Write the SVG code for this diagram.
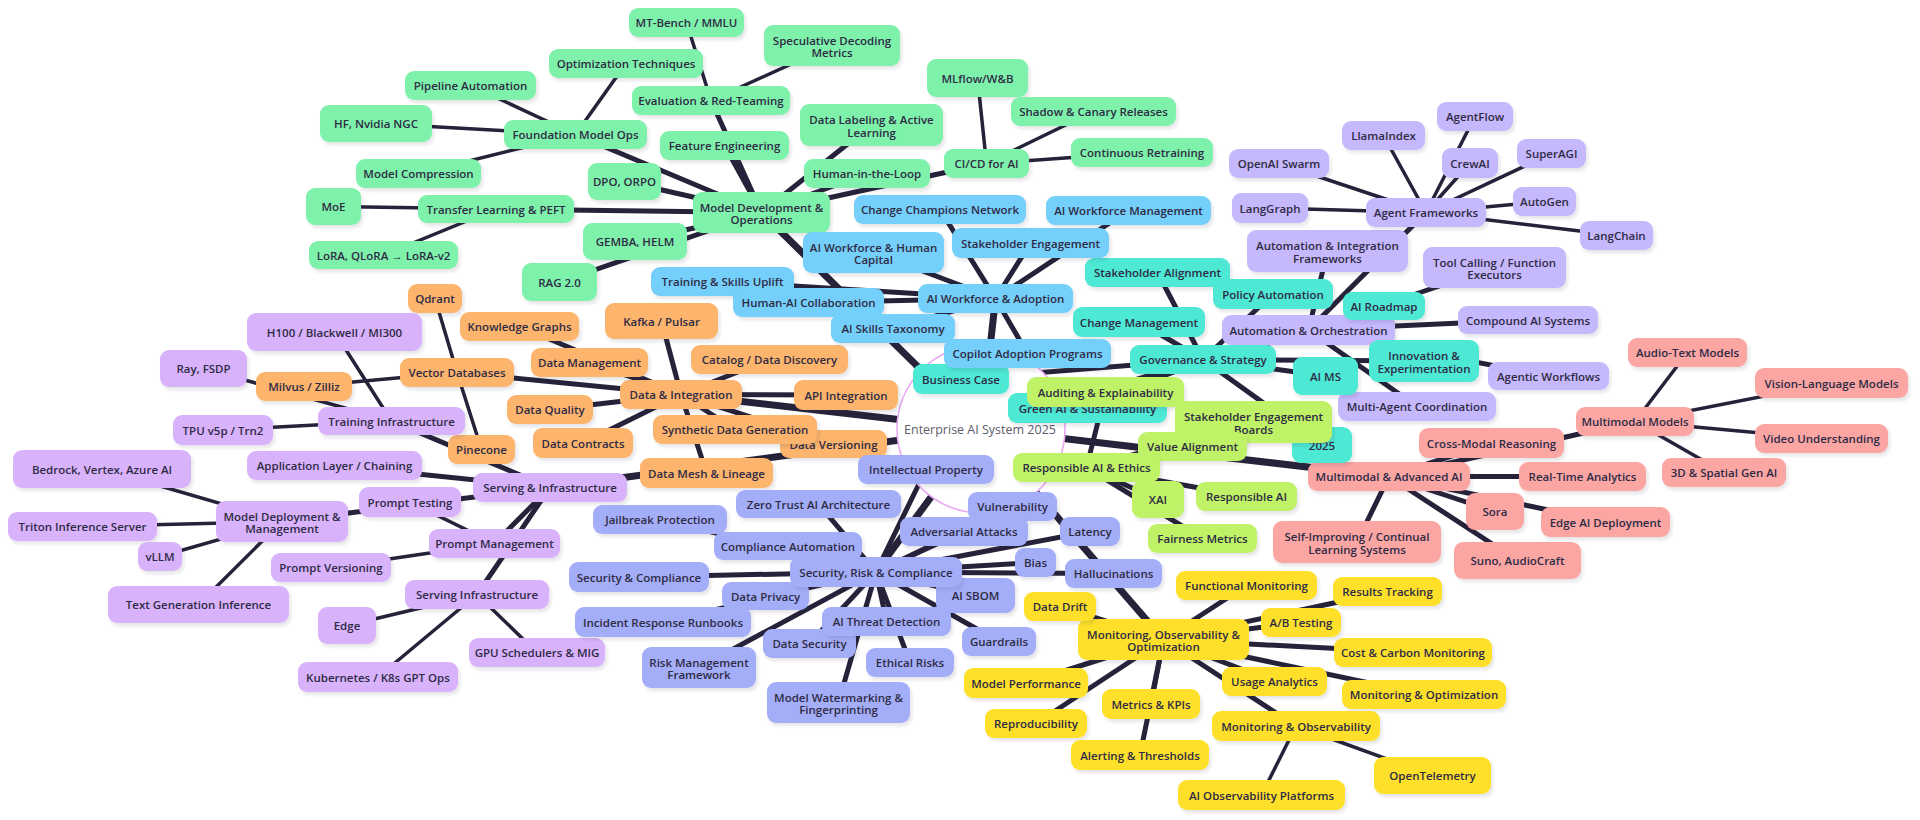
<svg xmlns="http://www.w3.org/2000/svg" width="1920" height="820" viewBox="0 0 1920 820">
<defs>
<filter id="sh" x="-10%" y="-20%" width="130%" height="160%"><feDropShadow dx="2" dy="3" stdDeviation="1.6" flood-color="#3a3550" flood-opacity="0.12"/></filter>
</defs>
<style>
.bg{fill:#ffffff}
.e{stroke:#25223a;stroke-linecap:round;fill:none}
.e1{stroke-width:7}
.e2{stroke-width:5}
.e3{stroke-width:3.5}
.nd rect{rx:9px;ry:9px;filter:url(#sh)}
.nd text{font-family:"Open Sans","Liberation Sans",sans-serif;font-size:11.5px;font-weight:600;fill:#2e2b44;text-anchor:middle;dominant-baseline:central}
.g rect{fill:#7ef2ab}
.o rect{fill:#fdb46c}
.m rect{fill:#d9b2fc}
.p rect{fill:#a4aef8}
.y rect{fill:#fee02c}
.r rect{fill:#fca6a4}
.v rect{fill:#c6b8fd}
.t rect{fill:#4ee9d5}
.b rect{fill:#74cffb}
.l rect{fill:#bff266}
.root circle{fill:#ffffff;stroke:#e9a9f2;stroke-width:1.6}
.root text{font-family:"Open Sans","Liberation Sans",sans-serif;font-size:12.5px;font-weight:500;fill:#5d5b6c;text-anchor:middle;dominant-baseline:central}
</style>
<rect class="bg" width="1920" height="820"/>
<g id="connectors">
<g id="edges-l1">
<line class="e e1" x1="981" y1="429" x2="761.5" y2="212.5"/>
<line class="e e1" x1="981" y1="429" x2="995.5" y2="298.5"/>
<line class="e e1" x1="981" y1="429" x2="681" y2="394.5"/>
<line class="e e1" x1="981" y1="429" x2="550" y2="487.5"/>
<line class="e e1" x1="981" y1="429" x2="876" y2="572"/>
<line class="e e1" x1="981" y1="429" x2="1163.5" y2="639.5"/>
<line class="e e1" x1="981" y1="429" x2="1389" y2="476.5"/>
<line class="e e1" x1="981" y1="429" x2="1086.5" y2="467.5"/>
<line class="e e1" x1="981" y1="429" x2="1203" y2="359.5"/>
<line class="e e1" x1="981" y1="429" x2="1308.5" y2="330"/>
</g>
<g id="edges-l2">
<line class="e e2" x1="761.5" y1="212.5" x2="575.5" y2="134.5"/>
<line class="e e2" x1="761.5" y1="212.5" x2="711" y2="100.5"/>
<line class="e e2" x1="761.5" y1="212.5" x2="724.5" y2="145.5"/>
<line class="e e2" x1="761.5" y1="212.5" x2="867" y2="173.5"/>
<line class="e e2" x1="761.5" y1="212.5" x2="871.5" y2="125"/>
<line class="e e2" x1="761.5" y1="212.5" x2="986.5" y2="163.5"/>
<line class="e e2" x1="761.5" y1="212.5" x2="624.5" y2="181.5"/>
<line class="e e2" x1="761.5" y1="212.5" x2="635" y2="241.5"/>
<line class="e e2" x1="761.5" y1="212.5" x2="559.5" y2="282"/>
<line class="e e2" x1="761.5" y1="212.5" x2="496" y2="209"/>
<line class="e e2" x1="995.5" y1="298.5" x2="940" y2="209.5"/>
<line class="e e2" x1="995.5" y1="298.5" x2="1128.5" y2="210.5"/>
<line class="e e2" x1="995.5" y1="298.5" x2="1030.5" y2="243"/>
<line class="e e2" x1="995.5" y1="298.5" x2="873.5" y2="252.5"/>
<line class="e e2" x1="995.5" y1="298.5" x2="722.5" y2="281.5"/>
<line class="e e2" x1="995.5" y1="298.5" x2="808.5" y2="302.5"/>
<line class="e e2" x1="995.5" y1="298.5" x2="893" y2="328.5"/>
<line class="e e2" x1="995.5" y1="298.5" x2="1027.5" y2="353.5"/>
<line class="e e2" x1="1203" y1="359.5" x2="1157.5" y2="272.5"/>
<line class="e e2" x1="1203" y1="359.5" x2="1273" y2="294"/>
<line class="e e2" x1="1203" y1="359.5" x2="1139" y2="322"/>
<line class="e e2" x1="1203" y1="359.5" x2="961" y2="379"/>
<line class="e e2" x1="1203" y1="359.5" x2="1325.5" y2="376"/>
<line class="e e2" x1="1203" y1="359.5" x2="1087.5" y2="408"/>
<line class="e e2" x1="1203" y1="359.5" x2="1322" y2="445"/>
<line class="e e2" x1="1203" y1="359.5" x2="1384" y2="306"/>
<line class="e e2" x1="1203" y1="359.5" x2="1424" y2="361"/>
<line class="e e2" x1="1086.5" y1="467.5" x2="1105.5" y2="392"/>
<line class="e e2" x1="1086.5" y1="467.5" x2="1253.5" y2="422"/>
<line class="e e2" x1="1086.5" y1="467.5" x2="1192.5" y2="446.5"/>
<line class="e e2" x1="1086.5" y1="467.5" x2="1158" y2="499.5"/>
<line class="e e2" x1="1086.5" y1="467.5" x2="1246.5" y2="496.5"/>
<line class="e e2" x1="1086.5" y1="467.5" x2="1202.5" y2="538.5"/>
<line class="e e2" x1="1308.5" y1="330" x2="1327.5" y2="251"/>
<line class="e e2" x1="1308.5" y1="330" x2="1426" y2="212.5"/>
<line class="e e2" x1="1308.5" y1="330" x2="1494.5" y2="267.5"/>
<line class="e e2" x1="1308.5" y1="330" x2="1528" y2="320"/>
<line class="e e2" x1="1308.5" y1="330" x2="1548.5" y2="376"/>
<line class="e e2" x1="1308.5" y1="330" x2="1417" y2="406.5"/>
<line class="e e2" x1="1389" y1="476.5" x2="1635" y2="421.5"/>
<line class="e e2" x1="1389" y1="476.5" x2="1491.5" y2="443"/>
<line class="e e2" x1="1389" y1="476.5" x2="1582.5" y2="476.5"/>
<line class="e e2" x1="1389" y1="476.5" x2="1495" y2="511.5"/>
<line class="e e2" x1="1389" y1="476.5" x2="1605.5" y2="522"/>
<line class="e e2" x1="1389" y1="476.5" x2="1357" y2="542"/>
<line class="e e2" x1="1389" y1="476.5" x2="1517.5" y2="560.5"/>
<line class="e e2" x1="1163.5" y1="639.5" x2="1246.5" y2="585.5"/>
<line class="e e2" x1="1163.5" y1="639.5" x2="1060" y2="606.5"/>
<line class="e e2" x1="1163.5" y1="639.5" x2="1301" y2="622.5"/>
<line class="e e2" x1="1163.5" y1="639.5" x2="1387.5" y2="591.5"/>
<line class="e e2" x1="1163.5" y1="639.5" x2="1413" y2="652.5"/>
<line class="e e2" x1="1163.5" y1="639.5" x2="1274.5" y2="681.5"/>
<line class="e e2" x1="1163.5" y1="639.5" x2="1424" y2="694.5"/>
<line class="e e2" x1="1163.5" y1="639.5" x2="1026" y2="683"/>
<line class="e e2" x1="1163.5" y1="639.5" x2="1151" y2="704"/>
<line class="e e2" x1="1163.5" y1="639.5" x2="1036" y2="723.5"/>
<line class="e e2" x1="1163.5" y1="639.5" x2="1296" y2="726"/>
<line class="e e2" x1="1163.5" y1="639.5" x2="1140" y2="755"/>
<line class="e e2" x1="876" y1="572" x2="926" y2="469.5"/>
<line class="e e2" x1="876" y1="572" x2="818.5" y2="504"/>
<line class="e e2" x1="876" y1="572" x2="660" y2="519.5"/>
<line class="e e2" x1="876" y1="572" x2="1012.5" y2="506.5"/>
<line class="e e2" x1="876" y1="572" x2="964" y2="531.5"/>
<line class="e e2" x1="876" y1="572" x2="1090" y2="531.5"/>
<line class="e e2" x1="876" y1="572" x2="788" y2="546"/>
<line class="e e2" x1="876" y1="572" x2="1035.5" y2="562.5"/>
<line class="e e2" x1="876" y1="572" x2="639" y2="577"/>
<line class="e e2" x1="876" y1="572" x2="1113.5" y2="573.5"/>
<line class="e e2" x1="876" y1="572" x2="765.5" y2="596"/>
<line class="e e2" x1="876" y1="572" x2="975.5" y2="595.5"/>
<line class="e e2" x1="876" y1="572" x2="663" y2="622"/>
<line class="e e2" x1="876" y1="572" x2="886.5" y2="621.5"/>
<line class="e e2" x1="876" y1="572" x2="809.5" y2="643.5"/>
<line class="e e2" x1="876" y1="572" x2="999" y2="641.5"/>
<line class="e e2" x1="876" y1="572" x2="699" y2="667.5"/>
<line class="e e2" x1="876" y1="572" x2="910" y2="662.5"/>
<line class="e e2" x1="876" y1="572" x2="838.5" y2="702.5"/>
<line class="e e2" x1="681" y1="394.5" x2="661.5" y2="321"/>
<line class="e e2" x1="681" y1="394.5" x2="519.5" y2="326.5"/>
<line class="e e2" x1="681" y1="394.5" x2="589.5" y2="362.5"/>
<line class="e e2" x1="681" y1="394.5" x2="769.5" y2="359.5"/>
<line class="e e2" x1="681" y1="394.5" x2="846" y2="395"/>
<line class="e e2" x1="681" y1="394.5" x2="550" y2="409.5"/>
<line class="e e2" x1="681" y1="394.5" x2="735" y2="429.5"/>
<line class="e e2" x1="681" y1="394.5" x2="583" y2="443"/>
<line class="e e2" x1="681" y1="394.5" x2="833.5" y2="444"/>
<line class="e e2" x1="681" y1="394.5" x2="706.5" y2="473"/>
<line class="e e2" x1="681" y1="394.5" x2="457" y2="372.5"/>
<line class="e e2" x1="550" y1="487.5" x2="391.5" y2="421"/>
<line class="e e2" x1="550" y1="487.5" x2="334.5" y2="465.5"/>
<line class="e e2" x1="550" y1="487.5" x2="282" y2="521.5"/>
<line class="e e2" x1="550" y1="487.5" x2="494.5" y2="543.5"/>
<line class="e e2" x1="550" y1="487.5" x2="477" y2="594.5"/>
</g>
<g id="edges-l3">
<line class="e e3" x1="575.5" y1="134.5" x2="626" y2="63.5"/>
<line class="e e3" x1="575.5" y1="134.5" x2="470.5" y2="85.5"/>
<line class="e e3" x1="575.5" y1="134.5" x2="376" y2="123.5"/>
<line class="e e3" x1="575.5" y1="134.5" x2="418.5" y2="173.5"/>
<line class="e e3" x1="711" y1="100.5" x2="686.5" y2="22.5"/>
<line class="e e3" x1="711" y1="100.5" x2="832" y2="45.5"/>
<line class="e e3" x1="496" y1="209" x2="333.5" y2="206.5"/>
<line class="e e3" x1="496" y1="209" x2="383.5" y2="255"/>
<line class="e e3" x1="986.5" y1="163.5" x2="977.5" y2="78"/>
<line class="e e3" x1="986.5" y1="163.5" x2="1093.5" y2="111.5"/>
<line class="e e3" x1="986.5" y1="163.5" x2="1142" y2="152.5"/>
<line class="e e3" x1="1426" y1="212.5" x2="1475" y2="116.5"/>
<line class="e e3" x1="1426" y1="212.5" x2="1383.5" y2="135.5"/>
<line class="e e3" x1="1426" y1="212.5" x2="1279" y2="163.5"/>
<line class="e e3" x1="1426" y1="212.5" x2="1470" y2="163"/>
<line class="e e3" x1="1426" y1="212.5" x2="1551.5" y2="153.5"/>
<line class="e e3" x1="1426" y1="212.5" x2="1270" y2="208"/>
<line class="e e3" x1="1426" y1="212.5" x2="1544.5" y2="201.5"/>
<line class="e e3" x1="1426" y1="212.5" x2="1616.5" y2="235.5"/>
<line class="e e3" x1="1635" y1="421.5" x2="1687.5" y2="352.5"/>
<line class="e e3" x1="1635" y1="421.5" x2="1831.5" y2="383"/>
<line class="e e3" x1="1635" y1="421.5" x2="1821.5" y2="438.5"/>
<line class="e e3" x1="1635" y1="421.5" x2="1724" y2="472.5"/>
<line class="e e3" x1="1296" y1="726" x2="1261.5" y2="795"/>
<line class="e e3" x1="1296" y1="726" x2="1432.5" y2="775.5"/>
<line class="e e3" x1="457" y1="372.5" x2="435" y2="298.5"/>
<line class="e e3" x1="457" y1="372.5" x2="304" y2="386.5"/>
<line class="e e3" x1="457" y1="372.5" x2="481.5" y2="449.5"/>
<line class="e e3" x1="391.5" y1="421" x2="223" y2="430"/>
<line class="e e3" x1="391.5" y1="421" x2="334.5" y2="332"/>
<line class="e e3" x1="391.5" y1="421" x2="203.5" y2="368.5"/>
<line class="e e3" x1="282" y1="521.5" x2="102" y2="469"/>
<line class="e e3" x1="282" y1="521.5" x2="82.5" y2="526.5"/>
<line class="e e3" x1="282" y1="521.5" x2="160" y2="556.5"/>
<line class="e e3" x1="282" y1="521.5" x2="198.5" y2="604.5"/>
<line class="e e3" x1="494.5" y1="543.5" x2="410" y2="502"/>
<line class="e e3" x1="494.5" y1="543.5" x2="331" y2="567.5"/>
<line class="e e3" x1="477" y1="594.5" x2="347" y2="625.5"/>
<line class="e e3" x1="477" y1="594.5" x2="537" y2="652.5"/>
<line class="e e3" x1="477" y1="594.5" x2="378" y2="677"/>
</g>
</g>
<g id="root" class="root">
<circle cx="981" cy="429" r="84"/>
<text x="980" y="429">Enterprise AI System 2025</text>
</g>
<g id="nodes">
<g id="n-md" class="nd g"><rect x="693" y="192" width="137" height="41"/><text x="761.5" y="212.5"><tspan x="761.5" dy="-6">Model Development &amp;</tspan><tspan x="761.5" dy="12.5">Operations</tspan></text></g>
<g id="n-fmo" class="nd g"><rect x="504" y="120" width="143" height="29"/><text x="575.5" y="134.5">Foundation Model Ops</text></g>
<g id="n-opt" class="nd g"><rect x="549" y="49" width="154" height="29"/><text x="626" y="63.5">Optimization Techniques</text></g>
<g id="n-pipe" class="nd g"><rect x="405" y="71" width="131" height="29"/><text x="470.5" y="85.5">Pipeline Automation</text></g>
<g id="n-hf" class="nd g"><rect x="320" y="105" width="112" height="37"/><text x="376" y="123.5">HF, Nvidia NGC</text></g>
<g id="n-comp" class="nd g"><rect x="356" y="159" width="125" height="29"/><text x="418.5" y="173.5">Model Compression</text></g>
<g id="n-dpo" class="nd g"><rect x="588" y="163" width="73" height="37"/><text x="624.5" y="181.5">DPO, ORPO</text></g>
<g id="n-moe" class="nd g"><rect x="306" y="188" width="55" height="37"/><text x="333.5" y="206.5">MoE</text></g>
<g id="n-tl" class="nd g"><rect x="418" y="195" width="156" height="28"/><text x="496" y="209">Transfer Learning &amp; PEFT</text></g>
<g id="n-gemba" class="nd g"><rect x="583" y="223" width="104" height="37"/><text x="635" y="241.5">GEMBA, HELM</text></g>
<g id="n-lora" class="nd g"><rect x="309" y="241" width="149" height="28"/><text x="383.5" y="255">LoRA, QLoRA → LoRA-v2</text></g>
<g id="n-rag" class="nd g"><rect x="522" y="263" width="75" height="38"/><text x="559.5" y="282">RAG 2.0</text></g>
<g id="n-mtb" class="nd g"><rect x="629" y="8" width="115" height="29"/><text x="686.5" y="22.5">MT-Bench / MMLU</text></g>
<g id="n-spec" class="nd g"><rect x="764" y="25" width="136" height="41"/><text x="832" y="45.5"><tspan x="832" dy="-6">Speculative Decoding</tspan><tspan x="832" dy="12.5">Metrics</tspan></text></g>
<g id="n-mlflow" class="nd g"><rect x="927" y="59" width="101" height="38"/><text x="977.5" y="78">MLflow/W&amp;B</text></g>
<g id="n-eval" class="nd g"><rect x="632" y="86" width="158" height="29"/><text x="711" y="100.5">Evaluation &amp; Red-Teaming</text></g>
<g id="n-shadow" class="nd g"><rect x="1011" y="97" width="165" height="29"/><text x="1093.5" y="111.5">Shadow &amp; Canary Releases</text></g>
<g id="n-label" class="nd g"><rect x="800" y="104" width="143" height="42"/><text x="871.5" y="125"><tspan x="871.5" dy="-6">Data Labeling &amp; Active</tspan><tspan x="871.5" dy="12.5">Learning</tspan></text></g>
<g id="n-feat" class="nd g"><rect x="660" y="131" width="129" height="29"/><text x="724.5" y="145.5">Feature Engineering</text></g>
<g id="n-retrain" class="nd g"><rect x="1071" y="138" width="142" height="29"/><text x="1142" y="152.5">Continuous Retraining</text></g>
<g id="n-hitl" class="nd g"><rect x="804" y="159" width="126" height="29"/><text x="867" y="173.5">Human-in-the-Loop</text></g>
<g id="n-cicd" class="nd g"><rect x="944" y="149" width="85" height="29"/><text x="986.5" y="163.5">CI/CD for AI</text></g>

<g id="n-di" class="nd o"><rect x="620" y="380" width="122" height="29"/><text x="681" y="394.5">Data &amp; Integration</text></g>
<g id="n-kafka" class="nd o"><rect x="605" y="303" width="113" height="36"/><text x="661.5" y="321">Kafka / Pulsar</text></g>
<g id="n-kg" class="nd o"><rect x="460" y="312" width="119" height="29"/><text x="519.5" y="326.5">Knowledge Graphs</text></g>
<g id="n-dm" class="nd o"><rect x="531" y="348" width="117" height="29"/><text x="589.5" y="362.5">Data Management</text></g>
<g id="n-cat" class="nd o"><rect x="691" y="345" width="157" height="29"/><text x="769.5" y="359.5">Catalog / Data Discovery</text></g>
<g id="n-api" class="nd o"><rect x="794" y="380" width="104" height="30"/><text x="846" y="395">API Integration</text></g>
<g id="n-dq" class="nd o"><rect x="507" y="395" width="86" height="29"/><text x="550" y="409.5">Data Quality</text></g>
<g id="n-dv" class="nd o"><rect x="780" y="430" width="107" height="28"/><text x="833.5" y="444">Data Versioning</text></g>
<g id="n-sdg" class="nd o"><rect x="653" y="415" width="164" height="29"/><text x="735" y="429.5">Synthetic Data Generation</text></g>
<g id="n-dc" class="nd o"><rect x="533" y="428" width="100" height="30"/><text x="583" y="443">Data Contracts</text></g>
<g id="n-pine" class="nd o"><rect x="448" y="435" width="67" height="29"/><text x="481.5" y="449.5">Pinecone</text></g>
<g id="n-dml" class="nd o"><rect x="640" y="458" width="133" height="30"/><text x="706.5" y="473">Data Mesh &amp; Lineage</text></g>
<g id="n-vdb" class="nd o"><rect x="400" y="358" width="114" height="29"/><text x="457" y="372.5">Vector Databases</text></g>
<g id="n-qdrant" class="nd o"><rect x="408" y="284" width="54" height="29"/><text x="435" y="298.5">Qdrant</text></g>
<g id="n-milvus" class="nd o"><rect x="256" y="372" width="96" height="29"/><text x="304" y="386.5">Milvus / Zilliz</text></g>

<g id="n-si" class="nd m"><rect x="473" y="473" width="154" height="29"/><text x="550" y="487.5">Serving &amp; Infrastructure</text></g>
<g id="n-ti" class="nd m"><rect x="318" y="407" width="147" height="28"/><text x="391.5" y="421">Training Infrastructure</text></g>
<g id="n-tpu" class="nd m"><rect x="173" y="415" width="100" height="30"/><text x="223" y="430">TPU v5p / Trn2</text></g>
<g id="n-app" class="nd m"><rect x="247" y="451" width="175" height="29"/><text x="334.5" y="465.5">Application Layer / Chaining</text></g>
<g id="n-bedrock" class="nd m"><rect x="13" y="450" width="178" height="38"/><text x="102" y="469">Bedrock, Vertex, Azure AI</text></g>
<g id="n-pt" class="nd m"><rect x="359" y="487" width="102" height="30"/><text x="410" y="502">Prompt Testing</text></g>
<g id="n-mdm" class="nd m"><rect x="216" y="501" width="132" height="41"/><text x="282" y="521.5"><tspan x="282" dy="-6">Model Deployment &amp;</tspan><tspan x="282" dy="12.5">Management</tspan></text></g>
<g id="n-triton" class="nd m"><rect x="8" y="512" width="149" height="29"/><text x="82.5" y="526.5">Triton Inference Server</text></g>
<g id="n-vllm" class="nd m"><rect x="138" y="542" width="44" height="29"/><text x="160" y="556.5">vLLM</text></g>
<g id="n-pm" class="nd m"><rect x="429" y="529" width="131" height="29"/><text x="494.5" y="543.5">Prompt Management</text></g>
<g id="n-pv" class="nd m"><rect x="271" y="553" width="120" height="29"/><text x="331" y="567.5">Prompt Versioning</text></g>
<g id="n-servinf" class="nd m"><rect x="405" y="580" width="144" height="29"/><text x="477" y="594.5">Serving Infrastructure</text></g>
<g id="n-tgi" class="nd m"><rect x="108" y="586" width="181" height="37"/><text x="198.5" y="604.5">Text Generation Inference</text></g>
<g id="n-edge" class="nd m"><rect x="318" y="607" width="58" height="37"/><text x="347" y="625.5">Edge</text></g>
<g id="n-gpu" class="nd m"><rect x="469" y="638" width="136" height="29"/><text x="537" y="652.5">GPU Schedulers &amp; MIG</text></g>
<g id="n-k8s" class="nd m"><rect x="298" y="662" width="160" height="30"/><text x="378" y="677">Kubernetes / K8s GPT Ops</text></g>
<g id="n-h100" class="nd m"><rect x="247" y="313" width="175" height="38"/><text x="334.5" y="332">H100 / Blackwell / MI300</text></g>
<g id="n-ray" class="nd m"><rect x="160" y="350" width="87" height="37"/><text x="203.5" y="368.5">Ray, FSDP</text></g>

<g id="n-ip" class="nd p"><rect x="858" y="455" width="136" height="29"/><text x="926" y="469.5">Intellectual Property</text></g>
<g id="n-zt" class="nd p"><rect x="736" y="490" width="165" height="28"/><text x="818.5" y="504">Zero Trust AI Architecture</text></g>
<g id="n-jp" class="nd p"><rect x="593" y="505" width="134" height="29"/><text x="660" y="519.5">Jailbreak Protection</text></g>
<g id="n-vuln" class="nd p"><rect x="968" y="492" width="89" height="29"/><text x="1012.5" y="506.5">Vulnerability</text></g>
<g id="n-aa" class="nd p"><rect x="900" y="517" width="128" height="29"/><text x="964" y="531.5">Adversarial Attacks</text></g>
<g id="n-lat" class="nd p"><rect x="1060" y="517" width="60" height="29"/><text x="1090" y="531.5">Latency</text></g>
<g id="n-ca" class="nd p"><rect x="714" y="532" width="148" height="28"/><text x="788" y="546">Compliance Automation</text></g>
<g id="n-bias" class="nd p"><rect x="1015" y="548" width="41" height="29"/><text x="1035.5" y="562.5">Bias</text></g>
<g id="n-sc" class="nd p"><rect x="569" y="562" width="140" height="30"/><text x="639" y="577">Security &amp; Compliance</text></g>
<g id="n-hall" class="nd p"><rect x="1065" y="559" width="97" height="29"/><text x="1113.5" y="573.5">Hallucinations</text></g>
<g id="n-dp" class="nd p"><rect x="722" y="582" width="87" height="28"/><text x="765.5" y="596">Data Privacy</text></g>
<g id="n-sbom" class="nd p"><rect x="936" y="578" width="79" height="35"/><text x="975.5" y="595.5">AI SBOM</text></g>
<g id="n-src" class="nd p"><rect x="790" y="557" width="172" height="30"/><text x="876" y="572">Security, Risk &amp; Compliance</text></g>
<g id="n-irr" class="nd p"><rect x="575" y="607" width="176" height="30"/><text x="663" y="622">Incident Response Runbooks</text></g>
<g id="n-ds" class="nd p"><rect x="763" y="629" width="93" height="29"/><text x="809.5" y="643.5">Data Security</text></g>
<g id="n-atd" class="nd p"><rect x="822" y="607" width="129" height="29"/><text x="886.5" y="621.5">AI Threat Detection</text></g>
<g id="n-guard" class="nd p"><rect x="962" y="627" width="74" height="29"/><text x="999" y="641.5">Guardrails</text></g>
<g id="n-rmf" class="nd p"><rect x="642" y="647" width="114" height="41"/><text x="699" y="667.5"><tspan x="699" dy="-6">Risk Management</tspan><tspan x="699" dy="12.5">Framework</tspan></text></g>
<g id="n-er" class="nd p"><rect x="866" y="648" width="88" height="29"/><text x="910" y="662.5">Ethical Risks</text></g>
<g id="n-mw" class="nd p"><rect x="767" y="682" width="143" height="41"/><text x="838.5" y="702.5"><tspan x="838.5" dy="-6">Model Watermarking &amp;</tspan><tspan x="838.5" dy="12.5">Fingerprinting</tspan></text></g>

<g id="n-moo" class="nd y"><rect x="1078" y="619" width="171" height="41"/><text x="1163.5" y="639.5"><tspan x="1163.5" dy="-6">Monitoring, Observability &amp;</tspan><tspan x="1163.5" dy="12.5">Optimization</tspan></text></g>
<g id="n-fm" class="nd y"><rect x="1176" y="571" width="141" height="29"/><text x="1246.5" y="585.5">Functional Monitoring</text></g>
<g id="n-dd" class="nd y"><rect x="1024" y="592" width="72" height="29"/><text x="1060" y="606.5">Data Drift</text></g>
<g id="n-ab" class="nd y"><rect x="1261" y="608" width="80" height="29"/><text x="1301" y="622.5">A/B Testing</text></g>
<g id="n-rt" class="nd y"><rect x="1333" y="577" width="109" height="29"/><text x="1387.5" y="591.5">Results Tracking</text></g>
<g id="n-ccm" class="nd y"><rect x="1334" y="638" width="158" height="29"/><text x="1413" y="652.5">Cost &amp; Carbon Monitoring</text></g>
<g id="n-ua" class="nd y"><rect x="1222" y="667" width="105" height="29"/><text x="1274.5" y="681.5">Usage Analytics</text></g>
<g id="n-mopt" class="nd y"><rect x="1342" y="680" width="164" height="29"/><text x="1424" y="694.5">Monitoring &amp; Optimization</text></g>
<g id="n-mp" class="nd y"><rect x="964" y="668" width="124" height="30"/><text x="1026" y="683">Model Performance</text></g>
<g id="n-mkpi" class="nd y"><rect x="1102" y="689" width="98" height="30"/><text x="1151" y="704">Metrics &amp; KPIs</text></g>
<g id="n-repro" class="nd y"><rect x="985" y="709" width="102" height="29"/><text x="1036" y="723.5">Reproducibility</text></g>
<g id="n-mobs" class="nd y"><rect x="1212" y="711" width="168" height="30"/><text x="1296" y="726">Monitoring &amp; Observability</text></g>
<g id="n-at" class="nd y"><rect x="1071" y="740" width="138" height="30"/><text x="1140" y="755">Alerting &amp; Thresholds</text></g>
<g id="n-aiop" class="nd y"><rect x="1178" y="780" width="167" height="30"/><text x="1261.5" y="795">AI Observability Platforms</text></g>
<g id="n-otel" class="nd y"><rect x="1374" y="757" width="117" height="37"/><text x="1432.5" y="775.5">OpenTelemetry</text></g>

<g id="n-maai" class="nd r"><rect x="1308" y="462" width="162" height="29"/><text x="1389" y="476.5">Multimodal &amp; Advanced AI</text></g>
<g id="n-mm" class="nd r"><rect x="1576" y="407" width="118" height="29"/><text x="1635" y="421.5">Multimodal Models</text></g>
<g id="n-cmr" class="nd r"><rect x="1419" y="428" width="145" height="30"/><text x="1491.5" y="443">Cross-Modal Reasoning</text></g>
<g id="n-vu" class="nd r"><rect x="1755" y="424" width="133" height="29"/><text x="1821.5" y="438.5">Video Understanding</text></g>
<g id="n-rta" class="nd r"><rect x="1519" y="462" width="127" height="29"/><text x="1582.5" y="476.5">Real-Time Analytics</text></g>
<g id="n-3d" class="nd r"><rect x="1662" y="458" width="124" height="29"/><text x="1724" y="472.5">3D &amp; Spatial Gen AI</text></g>
<g id="n-sora" class="nd r"><rect x="1466" y="493" width="58" height="37"/><text x="1495" y="511.5">Sora</text></g>
<g id="n-edgeai" class="nd r"><rect x="1541" y="507" width="129" height="30"/><text x="1605.5" y="522">Edge AI Deployment</text></g>
<g id="n-self" class="nd r"><rect x="1273" y="521" width="168" height="42"/><text x="1357" y="542"><tspan x="1357" dy="-6">Self-Improving / Continual</tspan><tspan x="1357" dy="12.5">Learning Systems</tspan></text></g>
<g id="n-suno" class="nd r"><rect x="1454" y="542" width="127" height="37"/><text x="1517.5" y="560.5">Suno, AudioCraft</text></g>
<g id="n-atm" class="nd r"><rect x="1628" y="338" width="119" height="29"/><text x="1687.5" y="352.5">Audio-Text Models</text></g>
<g id="n-vlm" class="nd r"><rect x="1755" y="368" width="153" height="30"/><text x="1831.5" y="383">Vision-Language Models</text></g>

<g id="n-ao" class="nd v"><rect x="1222" y="315" width="173" height="30"/><text x="1308.5" y="330">Automation &amp; Orchestration</text></g>
<g id="n-aif" class="nd v"><rect x="1247" y="230" width="161" height="42"/><text x="1327.5" y="251"><tspan x="1327.5" dy="-6">Automation &amp; Integration</tspan><tspan x="1327.5" dy="12.5">Frameworks</tspan></text></g>
<g id="n-af" class="nd v"><rect x="1366" y="198" width="120" height="29"/><text x="1426" y="212.5">Agent Frameworks</text></g>
<g id="n-tc" class="nd v"><rect x="1423" y="247" width="143" height="41"/><text x="1494.5" y="267.5"><tspan x="1494.5" dy="-6">Tool Calling / Function</tspan><tspan x="1494.5" dy="12.5">Executors</tspan></text></g>
<g id="n-cas" class="nd v"><rect x="1458" y="306" width="140" height="28"/><text x="1528" y="320">Compound AI Systems</text></g>
<g id="n-aw" class="nd v"><rect x="1488" y="362" width="121" height="28"/><text x="1548.5" y="376">Agentic Workflows</text></g>
<g id="n-mac" class="nd v"><rect x="1338" y="392" width="158" height="29"/><text x="1417" y="406.5">Multi-Agent Coordination</text></g>
<g id="n-agentflow" class="nd v"><rect x="1437" y="102" width="76" height="29"/><text x="1475" y="116.5">AgentFlow</text></g>
<g id="n-llama" class="nd v"><rect x="1342" y="121" width="83" height="29"/><text x="1383.5" y="135.5">LlamaIndex</text></g>
<g id="n-swarm" class="nd v"><rect x="1229" y="149" width="100" height="29"/><text x="1279" y="163.5">OpenAI Swarm</text></g>
<g id="n-crew" class="nd v"><rect x="1442" y="148" width="56" height="30"/><text x="1470" y="163">CrewAI</text></g>
<g id="n-superagi" class="nd v"><rect x="1517" y="139" width="69" height="29"/><text x="1551.5" y="153.5">SuperAGI</text></g>
<g id="n-langgraph" class="nd v"><rect x="1232" y="193" width="76" height="30"/><text x="1270" y="208">LangGraph</text></g>
<g id="n-autogen" class="nd v"><rect x="1513" y="187" width="63" height="29"/><text x="1544.5" y="201.5">AutoGen</text></g>
<g id="n-langchain" class="nd v"><rect x="1580" y="221" width="73" height="29"/><text x="1616.5" y="235.5">LangChain</text></g>

<g id="n-gov" class="nd t"><rect x="1130" y="345" width="146" height="29"/><text x="1203" y="359.5">Governance &amp; Strategy</text></g>
<g id="n-sa" class="nd t"><rect x="1085" y="258" width="145" height="29"/><text x="1157.5" y="272.5">Stakeholder Alignment</text></g>
<g id="n-pa" class="nd t"><rect x="1213" y="279" width="120" height="30"/><text x="1273" y="294">Policy Automation</text></g>
<g id="n-cm" class="nd t"><rect x="1073" y="307" width="132" height="30"/><text x="1139" y="322">Change Management</text></g>
<g id="n-bc" class="nd t"><rect x="913" y="364" width="96" height="30"/><text x="961" y="379">Business Case</text></g>
<g id="n-aims" class="nd t"><rect x="1293" y="357" width="65" height="38"/><text x="1325.5" y="376">AI MS</text></g>
<g id="n-green" class="nd t"><rect x="1008" y="393" width="159" height="30"/><text x="1087.5" y="408">Green AI &amp; Sustainability</text></g>
<g id="n-2025" class="nd t"><rect x="1292" y="427" width="60" height="36"/><text x="1322" y="445">2025</text></g>
<g id="n-roadmap" class="nd t"><rect x="1343" y="292" width="82" height="28"/><text x="1384" y="306">AI Roadmap</text></g>
<g id="n-innov" class="nd t"><rect x="1369" y="340" width="110" height="42"/><text x="1424" y="361"><tspan x="1424" dy="-6">Innovation &amp;</tspan><tspan x="1424" dy="12.5">Experimentation</tspan></text></g>

<g id="n-aiwa" class="nd b"><rect x="918" y="284" width="155" height="29"/><text x="995.5" y="298.5">AI Workforce &amp; Adoption</text></g>
<g id="n-ccn" class="nd b"><rect x="854" y="195" width="172" height="29"/><text x="940" y="209.5">Change Champions Network</text></g>
<g id="n-aiwm" class="nd b"><rect x="1046" y="196" width="165" height="29"/><text x="1128.5" y="210.5">AI Workforce Management</text></g>
<g id="n-aiwhc" class="nd b"><rect x="803" y="232" width="141" height="41"/><text x="873.5" y="252.5"><tspan x="873.5" dy="-6">AI Workforce &amp; Human</tspan><tspan x="873.5" dy="12.5">Capital</tspan></text></g>
<g id="n-se" class="nd b"><rect x="952" y="228" width="157" height="30"/><text x="1030.5" y="243">Stakeholder Engagement</text></g>
<g id="n-tsu" class="nd b"><rect x="651" y="267" width="143" height="29"/><text x="722.5" y="281.5">Training &amp; Skills Uplift</text></g>
<g id="n-hac" class="nd b"><rect x="733" y="288" width="151" height="29"/><text x="808.5" y="302.5">Human-AI Collaboration</text></g>
<g id="n-aist" class="nd b"><rect x="831" y="314" width="124" height="29"/><text x="893" y="328.5">AI Skills Taxonomy</text></g>
<g id="n-cap" class="nd b"><rect x="944" y="339" width="167" height="29"/><text x="1027.5" y="353.5">Copilot Adoption Programs</text></g>

<g id="n-aud" class="nd l"><rect x="1027" y="377" width="157" height="30"/><text x="1105.5" y="392">Auditing &amp; Explainability</text></g>
<g id="n-seb" class="nd l"><rect x="1175" y="401" width="157" height="42"/><text x="1253.5" y="422"><tspan x="1253.5" dy="-6">Stakeholder Engagement</tspan><tspan x="1253.5" dy="12.5">Boards</tspan></text></g>
<g id="n-va" class="nd l"><rect x="1138" y="432" width="109" height="29"/><text x="1192.5" y="446.5">Value Alignment</text></g>
<g id="n-raie" class="nd l"><rect x="1013" y="453" width="147" height="29"/><text x="1086.5" y="467.5">Responsible AI &amp; Ethics</text></g>
<g id="n-xai" class="nd l"><rect x="1132" y="481" width="52" height="37"/><text x="1158" y="499.5">XAI</text></g>
<g id="n-respai" class="nd l"><rect x="1196" y="482" width="101" height="29"/><text x="1246.5" y="496.5">Responsible AI</text></g>
<g id="n-fair" class="nd l"><rect x="1148" y="524" width="109" height="29"/><text x="1202.5" y="538.5">Fairness Metrics</text></g>
</g>
</svg>
